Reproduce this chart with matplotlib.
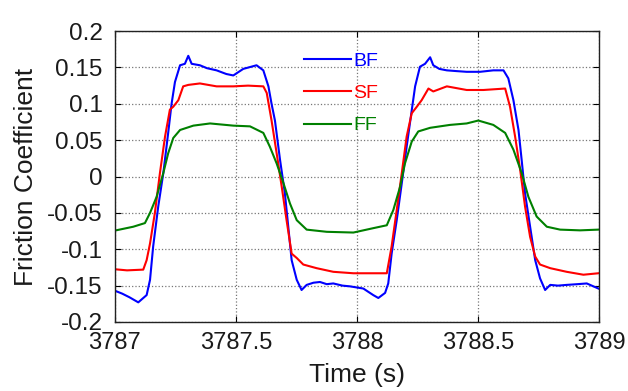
import numpy as np
import matplotlib
matplotlib.use('Agg')
import matplotlib.pyplot as plt

plt.rcParams['font.family'] = ['Liberation Sans', 'DejaVu Sans']

# traced curves: time offset from 3787 s, friction coefficient
t_bf = [0, 0.03, 0.06, 0.0964, 0.131, 0.145, 0.158, 0.179, 0.2, 0.22, 0.234, 0.248, 0.269, 0.289,
        0.303, 0.317, 0.351, 0.38, 0.42, 0.46, 0.489, 0.53, 0.585, 0.613, 0.634, 0.647, 0.661,
        0.682, 0.702, 0.716, 0.73, 0.751, 0.771, 0.792, 0.82, 0.847, 0.875, 0.902, 0.94, 0.971, 1.026,
        1.067, 1.088, 1.116, 1.129, 1.143, 1.164, 1.185, 1.205, 1.226, 1.24, 1.26,
        1.281, 1.302, 1.315, 1.34, 1.371, 1.41, 1.453, 1.508, 1.563, 1.605, 1.625, 1.646, 1.667,
        1.68, 1.694, 1.715, 1.736, 1.756, 1.777, 1.798, 1.83, 1.866, 1.91, 1.949, 1.997]
bf = [-0.157, -0.161, -0.166, -0.173, -0.163, -0.142, -0.096, -0.041, 0.005, 0.06, 0.1, 0.13, 0.153, 0.155,
      0.166, 0.155, 0.153, 0.149, 0.146, 0.141, 0.139, 0.148, 0.153, 0.146, 0.124, 0.1, 0.077,
      0.023, -0.023, -0.069, -0.115, -0.142, -0.156, -0.149, -0.146, -0.145, -0.148, -0.147, -0.150, -0.151, -0.154,
      -0.163, -0.167, -0.16, -0.147, -0.106, -0.06, -0.009, 0.041, 0.091, 0.124, 0.151,
      0.155, 0.164, 0.153, 0.148, 0.146, 0.145, 0.144, 0.144, 0.146, 0.146, 0.135, 0.105, 0.064,
      0.023, -0.023, -0.069, -0.115, -0.14, -0.156, -0.149, -0.150, -0.149, -0.148, -0.147, -0.154]

t_sf = [0, 0.05, 0.117, 0.131, 0.145, 0.165, 0.186, 0.207, 0.227, 0.241, 0.262, 0.282, 0.303,
        0.351, 0.42, 0.489, 0.55, 0.613, 0.627, 0.647, 0.668, 0.689, 0.709, 0.73, 0.751,
        0.778, 0.833, 0.902, 0.985, 1.05, 1.123, 1.143, 1.164, 1.185, 1.205, 1.226, 1.247,
        1.267, 1.295, 1.315, 1.371, 1.453, 1.522, 1.612, 1.632, 1.653, 1.674, 1.694,
        1.715, 1.736, 1.756, 1.798, 1.866, 1.935, 1.997]
sf = [-0.1275, -0.129, -0.128, -0.115, -0.092, -0.05, 0.005, 0.055, 0.092, 0.096, 0.105, 0.124, 0.126,
      0.128, 0.124, 0.124, 0.125, 0.124, 0.115, 0.077, 0.032, -0.014, -0.06, -0.106, -0.112,
      -0.121, -0.126, -0.131, -0.133, -0.133, -0.133, -0.096, -0.046, 0.005, 0.055, 0.087, 0.096,
      0.105, 0.121, 0.117, 0.124, 0.119, 0.119, 0.121, 0.096, 0.055, 0.009, -0.041,
      -0.083, -0.11, -0.121, -0.126, -0.131, -0.135, -0.133]

t_ff = [0, 0.0758, 0.124, 0.145, 0.172, 0.2, 0.22, 0.241, 0.269, 0.324, 0.393, 0.489,
        0.558, 0.613, 0.64, 0.668, 0.696, 0.723, 0.751, 0.792, 0.875, 0.985, 1.067,
        1.123, 1.15, 1.178, 1.198, 1.226, 1.253, 1.302, 1.384, 1.453, 1.501, 1.563,
        1.612, 1.646, 1.68, 1.708, 1.742, 1.784, 1.839, 1.921, 1.997]
ff = [-0.0743, -0.069, -0.064, -0.05, -0.028, 0.005, 0.032, 0.053, 0.064, 0.07, 0.073, 0.07,
      0.069, 0.06, 0.041, 0.018, -0.009, -0.037, -0.06, -0.073, -0.076, -0.077, -0.071,
      -0.067, -0.046, -0.014, 0.018, 0.048, 0.062, 0.067, 0.071, 0.073, 0.077, 0.071,
      0.06, 0.037, 0.005, -0.028, -0.055, -0.069, -0.073, -0.074, -0.073]

t0 = 3787
xticks = [3787, 3787.5, 3788, 3788.5, 3789]
xticklabels = ['3787', '3787.5', '3788', '3788.5', '3789']
yticks = [-0.2, -0.15, -0.1, -0.05, 0, 0.05, 0.1, 0.15, 0.2]
yticklabels = ['-0.2', '-0.15', '-0.1', '-0.05', '0', '0.05', '0.1', '0.15', '0.2']

fig = plt.figure(figsize=(6.28, 3.91), dpi=100)
ax = fig.add_axes([0.183, 0.1765, 0.771, 0.744])

ax.plot(t0 + np.array(t_bf), bf, color='#0000ff', lw=1.5, label='BF')
ax.plot(t0 + np.array(t_sf), sf, color='#ff0000', lw=1.5, label='SF')
ax.plot(t0 + np.array(t_ff), ff, color='#008000', lw=1.5, label='FF')

ax.set_xlim(3787, 3789)
ax.set_ylim(-0.2, 0.2)
ax.set_xticks(xticks)
ax.set_xticklabels(xticklabels)
ax.set_yticks(yticks)
ax.set_yticklabels(yticklabels)
ax.tick_params(direction='in', length=4, top=True, right=True, labelcolor='#1a1a1a')
ax.tick_params(axis='x', labelsize=17, pad=7)
ax.tick_params(axis='y', labelsize=17.5, pad=9)
ax.grid(True, color='#777777', linestyle=':', linewidth=0.9)
for s in ax.spines.values():
    s.set_linewidth(1.0)
    s.set_color('#222222')

ax.set_xlabel('Time (s)', fontsize=19, labelpad=7, color='#1a1a1a')
ax.set_ylabel('Friction Coefficient', fontsize=19, labelpad=6, color='#1a1a1a')

leg = ax.legend(loc='upper left', bbox_to_anchor=(0.363, 0.975), frameon=False,
                fontsize=14, labelcolor='linecolor', handlelength=2.4,
                handletextpad=0.1, labelspacing=0.76, borderpad=0.2)

fig.savefig('out.png', dpi=100)
